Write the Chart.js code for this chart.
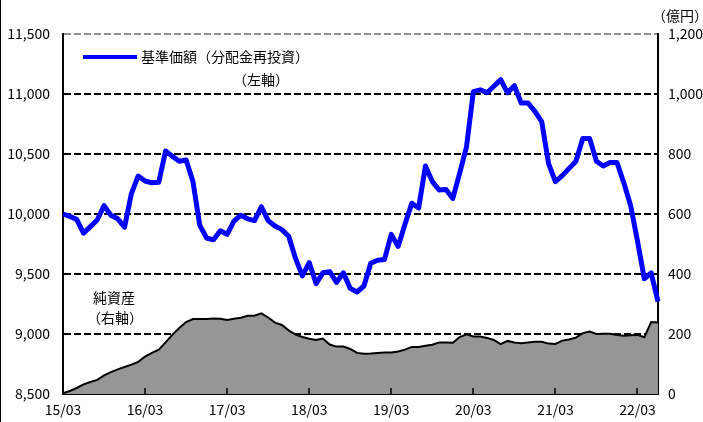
<!DOCTYPE html>
<html>
<head>
<meta charset="utf-8">
<script src="https://cdn.jsdelivr.net/npm/chart.js@4.4.1/dist/chart.umd.min.js"></script>
<style>
  html, body { margin: 0; padding: 0; background: #fff; }
  #wrap { width: 703px; height: 422px; }
</style>
</head>
<body>
<div id="wrap"><canvas id="myChart" width="703" height="422"></canvas></div>
<script>
// monthly, 2015/03 .. 2022/06
const firstYear = 2015, firstMonth = 3, monthCount = 88;
const tickLabels = ["15/03", "16/03", "17/03", "18/03", "19/03", "20/03", "21/03", "22/03"];

// 基準価額（分配金再投資） - left axis, yen
const navValues = [
  10000, 9980, 9955, 9840, 9895, 9950, 10070, 9990, 9960, 9890, 10170, 10317,
  10275, 10260, 10265, 10525, 10480, 10440, 10450, 10270, 9905, 9800, 9785, 9860,
  9830, 9940, 9990, 9960, 9945, 10060, 9945, 9900, 9870, 9815, 9630, 9485,
  9595, 9420, 9510, 9520, 9430, 9510, 9380, 9350, 9400, 9590, 9615, 9620,
  9830, 9730, 9915, 10090, 10050, 10400, 10270, 10200, 10205, 10130, 10340, 10560,
  11020, 11035, 11010, 11065, 11120, 11010, 11070, 10925, 10925, 10855, 10770, 10420,
  10270, 10320, 10380, 10440, 10630, 10630, 10440, 10400, 10430, 10430, 10260, 10070,
  9775, 9460, 9510, 9270
];

// 純資産 - right axis, 億円
const netAssets = [
  3, 10, 20, 32, 40, 47, 62, 73, 82, 90, 98, 107,
  125, 137, 148, 172, 198, 220, 240, 250, 250, 250, 252, 251,
  247, 251, 254, 261, 261, 269, 255, 238, 230, 212, 198, 190,
  184, 180, 185, 165, 158, 158, 150, 137, 134, 135, 137, 138,
  138, 142, 148, 157, 157, 161, 164, 172, 172, 171, 190, 199,
  192, 192, 187, 180, 166, 177, 172, 169, 172, 174, 174, 168,
  167, 178, 182, 188, 203, 208, 200, 201, 201, 197, 194, 196,
  197, 189, 240, 238
];

const leftMin = 8500, leftMax = 11500, leftStep = 500;
const rightMin = 0, rightMax = 1200, rightStep = 200;

const labels = [];
for (let i = 0; i < monthCount; i++) {
  const m = firstMonth - 1 + i;
  const yy = (firstYear + Math.floor(m / 12)) % 100;
  const mm = (m % 12) + 1;
  labels.push(String(yy).padStart(2, "0") + "/" + String(mm).padStart(2, "0"));
}

const FONT = "'Noto Sans CJK JP', 'Liberation Sans', sans-serif";
Chart.defaults.font.family = FONT;
Chart.defaults.color = "#000";

const extras = {
  id: "extras",
  afterDatasetsDraw(chart) {
    const ctx = chart.ctx, x = chart.scales.x, area = chart.chartArea;
    ctx.save();
    ctx.strokeStyle = "#000";
    ctx.lineWidth = 1.5;
    tickLabels.forEach(function (t) {
      const px = Math.round(x.getPixelForValue(labels.indexOf(t)));
      ctx.beginPath();
      ctx.moveTo(px, area.bottom);
      ctx.lineTo(px, area.bottom - 6);
      ctx.stroke();
    });
    ctx.restore();
  },
  afterDraw(chart) {
    const ctx = chart.ctx;
    ctx.save();
    // frame line on the left edge
    ctx.strokeStyle = "#000";
    ctx.lineWidth = 1;
    ctx.beginPath();
    ctx.moveTo(0.5, 0);
    ctx.lineTo(0.5, 422);
    ctx.stroke();

    // legend
    ctx.strokeStyle = "#0000ff";
    ctx.lineWidth = 4;
    ctx.beginPath();
    ctx.moveTo(83, 57);
    ctx.lineTo(137, 57);
    ctx.stroke();

    ctx.fillStyle = "#000";
    ctx.textBaseline = "middle";
    ctx.textAlign = "left";
    ctx.font = "14px " + FONT;
    ctx.fillText("基準価額（分配金再投資）", 141, 57);
    ctx.fillText("（左軸）", 233, 80);
    ctx.fillText("純資産", 93, 298);
    ctx.fillText("（右軸）", 87, 318);
    ctx.fillText("（億円）", 652, 16);
    ctx.restore();
  }
};

new Chart("myChart", {
  type: "line",
  data: {
    labels: labels,
    datasets: [
      {
        label: "基準価額（分配金再投資）",
        data: navValues,
        yAxisID: "y",
        borderColor: "#0000ff",
        borderWidth: 5,
        borderJoinStyle: "round",
        pointRadius: 0,
        fill: false,
        tension: 0
      },
      {
        label: "純資産",
        data: netAssets,
        yAxisID: "y1",
        borderColor: "#000",
        borderWidth: 2,
        backgroundColor: "#969696",
        pointRadius: 0,
        fill: "start",
        tension: 0
      }
    ]
  },
  options: {
    responsive: false,
    animation: false,
    devicePixelRatio: 1,
    layout: { padding: { top: 34, left: 0, right: 0, bottom: 0 } },
    plugins: { legend: { display: false }, tooltip: { enabled: false } },
    scales: {
      x: {
        offset: false,
        grid: { display: false, drawTicks: false },
        border: { display: true, color: "#000", width: 2 },
        ticks: {
          autoSkip: false,
          maxRotation: 0,
          padding: 7,
          font: { size: 14 },
          callback: function (v, i) {
            return tickLabels.indexOf(labels[i]) >= 0 ? labels[i] : "";
          }
        },
        afterFit: function (s) { s.height = 28; }
      },
      y: {
        position: "left",
        min: leftMin,
        max: leftMax,
        grid: {
          drawTicks: false,
          lineWidth: 2,
          color: function (c) {
            if (c.tick.value === leftMax) return "#909090";
            if (c.tick.value === leftMin) return "rgba(0,0,0,0)";
            return "#000";
          }
        },
        border: { display: true, color: "#000", width: 2, dash: [7, 3] },
        ticks: {
          stepSize: leftStep,
          padding: 13,
          font: { size: 14 },
          callback: function (v) { return v.toLocaleString("en-US"); }
        },
        afterFit: function (s) { s.width = 63; }
      },
      y1: {
        position: "right",
        min: rightMin,
        max: rightMax,
        grid: { display: false, drawTicks: false },
        border: { display: true, color: "#000", width: 2 },
        ticks: {
          stepSize: rightStep,
          padding: 10,
          font: { size: 14 },
          callback: function (v) { return v.toLocaleString("en-US"); }
        },
        afterFit: function (s) { s.width = 45; }
      }
    }
  },
  plugins: [extras]
});
</script>
</body>
</html>
